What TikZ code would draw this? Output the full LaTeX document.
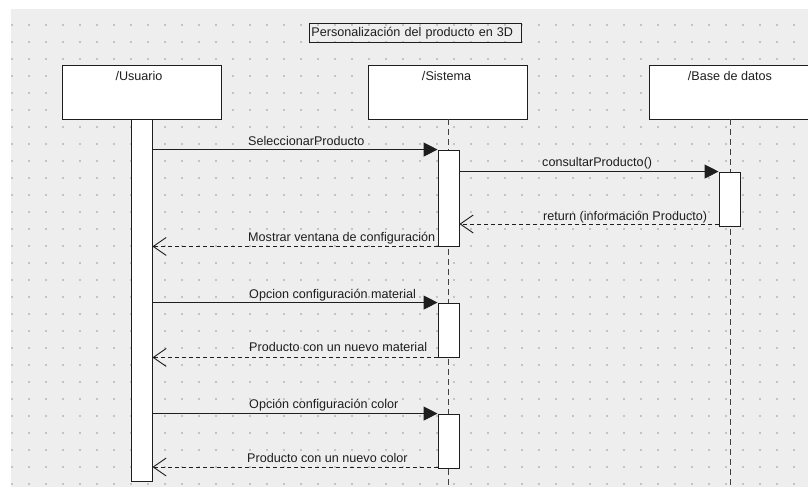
\documentclass[tikz,border=0pt]{standalone}
\usepackage{fontspec}
\setmainfont{Liberation Sans}
\usetikzlibrary{arrows.meta}
\definecolor{canvas}{HTML}{EEEEEE}
\definecolor{griddot}{HTML}{C4C4C4}
\definecolor{ink}{HTML}{1E1E1E}
\begin{document}
\begin{tikzpicture}[x=1pt,y=-1pt,
  every node/.style={font=\fontsize{12.6}{15}\selectfont, text=ink},
  obj/.style={draw=ink, fill=white, line width=0.9pt, minimum width=159pt,
    minimum height=54pt, inner sep=0pt},
  actbar/.style={draw=ink, fill=white, line width=0.9pt, minimum width=21pt, inner sep=0pt},
  lifeline/.style={draw=ink!85, line width=1pt, dash pattern=on 6pt off 4pt},
  call/.style={draw=ink, line width=0.9pt, -{Triangle[length=14pt,width=14pt]}},
  reply/.style={draw=ink, line width=0.9pt, dash pattern=on 4pt off 3pt,
    -{Straight Barb[length=13pt,width=18pt,line width=0.9pt]}},
  msg/.style={anchor=base west, inner sep=0pt},
  objname/.style={anchor=base, inner sep=0pt},
]
\useasboundingbox (0,0) rectangle (808,488);
\fill[white] (0,0) rectangle (808,488);
\fill[canvas] (11,9) rectangle (808,487);

% dotted drawing grid
\foreach \x in {12,29,...,805}
  \foreach \y in {25,42,...,487}
    \fill[griddot] (\x-0.75,\y-0.75) rectangle ++(1.5,1.5);

\coordinate (bottom) at (0,488);

% diagram title
\node[draw=ink, line width=0.8pt, anchor=north west, minimum height=19pt,
      text width=208pt, inner xsep=2pt, inner ysep=0pt, align=left]
      (title) at (309,23) {Personalización del producto en 3D};

% participants
\node[obj] (usr) at (141.5,92) {};
\node[obj] (sys) at (448,92) {};
\node[obj] (db)  at (729,92) {};
\node[objname] (usrname) at (139,80) {/Usuario};
\node[objname] (sysname) at (446.5,80) {/Sistema};
\node[objname] (dbname)  at (730,80) {/Base de datos};

% lifelines
\draw[lifeline] (sys.south) -- (sys.south |- bottom);
\draw[lifeline] ([xshift=1pt]db.south) -- ([xshift=1pt]db.south |- bottom);

% activation bars
\node[actbar, minimum height=362pt] (ubar) at (141.5,300) {};
\node[actbar, minimum height=96pt] (s1) at (448.5,198) {};
\node[actbar, minimum height=54pt] (b1) at (729.5,199) {};
\node[actbar, minimum height=54pt] (s2) at (448.5,330) {};
\node[actbar, minimum height=54pt] (s3) at (448.5,441) {};

% messages
\coordinate (r1) at (0,224);
\coordinate (r2) at (0,467);
\draw[call]  (ubar.east |- s1.north) -- (s1.north west);
\draw[call]  (s1.east |- b1.north) -- (b1.north west);
\draw[reply] (b1.west |- r1) -- (s1.east |- r1);
\draw[reply] (s1.south west) -- (ubar.east |- s1.south);
\draw[call]  (ubar.east |- s2.north) -- (s2.north west);
\draw[reply] (s2.south west) -- (ubar.east |- s2.south);
\draw[call]  (ubar.east |- s3.north) -- (s3.north west);
\draw[reply] (s3.west |- r2) -- (ubar.east |- r2);

% message labels
\node[msg] (m1) at (248,145) {SeleccionarProducto};
\node[msg] (m2) at (542,166) {consultarProducto()};
\node[msg] (m3) at (543,220) {return (información Producto)};
\node[msg] (m4) at (248,241) {Mostrar ventana de configuración};
\node[msg] (m5) at (249,298) {Opcion configuración material};
\node[msg] (m6) at (249,351) {Producto con un nuevo material};
\node[msg] (m7) at (249,408) {Opción configuración color};
\node[msg] (m8) at (247,462) {Producto con un nuevo color};
\end{tikzpicture}
\end{document}
